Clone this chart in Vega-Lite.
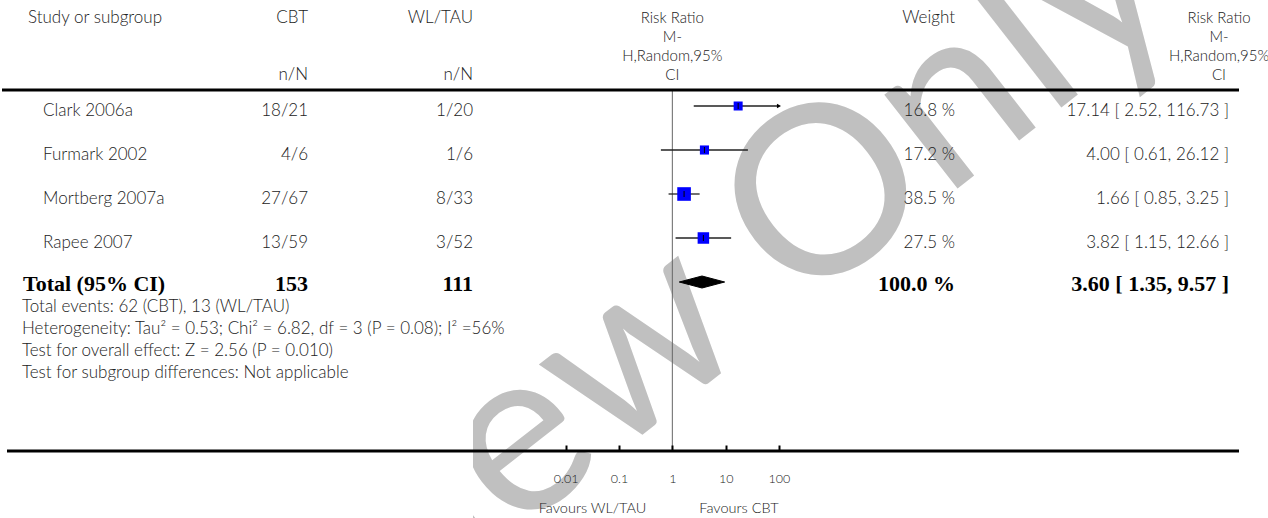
{
  "$schema": "https://vega.github.io/schema/vega-lite/v6.json",
  "padding": 0,
  "spacing": 0,
  "bounds": "flush",
  "background": "white",
  "config": {
    "view": {"stroke": null},
    "text": {"font": "Lato", "fontSize": 17, "fontWeight": 300, "color": "#222"},
    "axis": {"grid": false}
  },
  "datasets": {
    "rules": [{"rule": "header"}, {"rule": "axis"}],
    "header": [
      {"col": "study", "line": "1", "text": "Study or subgroup"},
      {"col": "cbt", "line": "1", "text": "CBT"},
      {"col": "cbt", "line": "4", "text": "n/N"},
      {"col": "wl", "line": "1", "text": "WL/TAU"},
      {"col": "wl", "line": "4", "text": "n/N"},
      {"col": "rr", "line": "1", "text": "Risk Ratio"},
      {"col": "rr", "line": "2", "text": "M-"},
      {"col": "rr", "line": "3", "text": "H,Random,95%"},
      {"col": "rr", "line": "4", "text": "CI"},
      {"col": "weight", "line": "1", "text": "Weight"},
      {"col": "rrtext", "line": "1", "text": "Risk Ratio"},
      {"col": "rrtext", "line": "2", "text": "M-"},
      {"col": "rrtext", "line": "3", "text": "H,Random,95%"},
      {"col": "rrtext", "line": "4", "text": "CI"}
    ],
    "studies": [
      {"study": "Clark 2006a", "cbt": "18/21", "wl": "1/20", "rr": 17.14, "lo": 2.52, "hi": 116.73, "weight": 16.8, "wtext": "16.8 %", "rrtext": "17.14 [ 2.52, 116.73 ]"},
      {"study": "Furmark 2002", "cbt": "4/6", "wl": "1/6", "rr": 4.0, "lo": 0.61, "hi": 26.12, "weight": 17.2, "wtext": "17.2 %", "rrtext": "4.00 [ 0.61, 26.12 ]"},
      {"study": "Mortberg 2007a", "cbt": "27/67", "wl": "8/33", "rr": 1.66, "lo": 0.85, "hi": 3.25, "weight": 38.5, "wtext": "38.5 %", "rrtext": "1.66 [ 0.85, 3.25 ]"},
      {"study": "Rapee 2007", "cbt": "13/59", "wl": "3/52", "rr": 3.82, "lo": 1.15, "hi": 12.66, "weight": 27.5, "wtext": "27.5 %", "rrtext": "3.82 [ 1.15, 12.66 ]"}
    ],
    "total": [
      {"study": "Total (95% CI)", "cbt": "153", "wl": "111", "rr": 3.6, "lo": 1.35, "hi": 9.57, "wtext": "100.0 %", "rrtext": "3.60 [ 1.35, 9.57 ]"}
    ],
    "diamond": [
      {"vertex": 1, "ratio": 1.35, "edge": "middle"},
      {"vertex": 2, "ratio": 3.6, "edge": "upper"},
      {"vertex": 3, "ratio": 9.57, "edge": "middle"},
      {"vertex": 4, "ratio": 3.6, "edge": "lower"}
    ],
    "notes": [
      {"line": "1", "text": "Total events: 62 (CBT), 13 (WL/TAU)"},
      {"line": "2", "text": "Heterogeneity: Tau² = 0.53; Chi² = 6.82, df = 3 (P = 0.08); I² =56%"},
      {"line": "3", "text": "Test for overall effect: Z = 2.56 (P = 0.010)"},
      {"line": "4", "text": "Test for subgroup differences: Not applicable"}
    ],
    "favours": [
      {"side": "WL/TAU", "text": "Favours WL/TAU"},
      {"side": "CBT", "text": "Favours CBT"}
    ],
    "watermark": [{"text": "Review Only"}]
  },
  "hconcat": [
    {
      "width": 5, "height": 518,
      "layer": [
        {"data": {"name": "rules"}, "transform": [{"filter": "datum.rule == 'header'"}],
         "mark": {"type": "rule", "strokeWidth": 3, "color": "black"},
         "encoding": {"y": {"field": "rule", "type": "nominal", "scale": {"type": "point", "domain": ["header", "axis"], "range": [90, 451], "padding": 0}, "axis": null}}}
      ]
    },
    {
      "width": 15, "height": 518,
      "layer": [
        {"data": {"name": "rules"},
         "mark": {"type": "rule", "strokeWidth": 3, "color": "black"},
         "encoding": {"y": {"field": "rule", "type": "nominal", "scale": {"type": "point", "domain": ["header", "axis"], "range": [90, 451], "padding": 0}, "axis": null}}},
        {"data": {"name": "header"}, "transform": [{"filter": "datum.col == 'study'"}],
         "mark": {"type": "text", "align": "left", "baseline": "middle", "dx": 6},
         "encoding": {"x": {"value": "width"}, "y": {"field": "line", "type": "nominal", "scale": {"type": "point", "domain": ["1", "2", "3", "4"], "range": [18, 75], "padding": 0}, "axis": null}, "text": {"field": "text"}}},
        {"data": {"name": "studies"},
         "mark": {"type": "text", "align": "left", "baseline": "middle", "dx": 21},
         "encoding": {"x": {"value": "width"}, "y": {"field": "study", "type": "nominal", "scale": {"type": "point", "domain": ["Clark 2006a", "Furmark 2002", "Mortberg 2007a", "Rapee 2007", "Total (95% CI)"], "range": [111, 287], "padding": 0}, "axis": null}, "text": {"field": "study"}}},
        {"data": {"name": "total"},
         "mark": {"type": "text", "align": "left", "baseline": "middle", "dx": 1, "dy": -3, "font": "Liberation Serif", "fontWeight": "bold", "fontSize": 22, "color": "black"},
         "encoding": {"x": {"value": "width"}, "y": {"field": "study", "type": "nominal", "scale": {"type": "point", "domain": ["Clark 2006a", "Furmark 2002", "Mortberg 2007a", "Rapee 2007", "Total (95% CI)"], "range": [111, 287], "padding": 0}, "axis": null}, "text": {"field": "study"}}},
        {"data": {"name": "notes"},
         "mark": {"type": "text", "align": "left", "baseline": "middle"},
         "encoding": {"x": {"value": "width"}, "y": {"field": "line", "type": "nominal", "scale": {"type": "point", "domain": ["1", "2", "3", "4"], "range": [307, 373], "padding": 0}, "axis": null}, "text": {"field": "text"}}}
      ],
      "resolve": {"scale": {"y": "independent"}}
    },
    {
      "width": 286, "height": 518,
      "layer": [
        {"data": {"name": "rules"},
         "mark": {"type": "rule", "strokeWidth": 3, "color": "black"},
         "encoding": {"y": {"field": "rule", "type": "nominal", "scale": {"type": "point", "domain": ["header", "axis"], "range": [90, 451], "padding": 0}, "axis": null}}},
        {"data": {"name": "header"}, "transform": [{"filter": "datum.col == 'cbt'"}],
         "mark": {"type": "text", "align": "right", "baseline": "middle"},
         "encoding": {"x": {"value": "width"}, "y": {"field": "line", "type": "nominal", "scale": {"type": "point", "domain": ["1", "2", "3", "4"], "range": [18, 75], "padding": 0}, "axis": null}, "text": {"field": "text"}}},
        {"data": {"name": "studies"},
         "mark": {"type": "text", "align": "right", "baseline": "middle"},
         "encoding": {"x": {"value": "width"}, "y": {"field": "study", "type": "nominal", "scale": {"type": "point", "domain": ["Clark 2006a", "Furmark 2002", "Mortberg 2007a", "Rapee 2007", "Total (95% CI)"], "range": [111, 287], "padding": 0}, "axis": null}, "text": {"field": "cbt"}}},
        {"data": {"name": "total"},
         "mark": {"type": "text", "align": "right", "baseline": "middle", "dy": -3, "font": "Liberation Serif", "fontWeight": "bold", "fontSize": 22, "color": "black"},
         "encoding": {"x": {"value": "width"}, "y": {"field": "study", "type": "nominal", "scale": {"type": "point", "domain": ["Clark 2006a", "Furmark 2002", "Mortberg 2007a", "Rapee 2007", "Total (95% CI)"], "range": [111, 287], "padding": 0}, "axis": null}, "text": {"field": "cbt"}}}
      ],
      "resolve": {"scale": {"y": "independent"}}
    },
    {
      "width": 165, "height": 518,
      "layer": [
        {"data": {"name": "rules"},
         "mark": {"type": "rule", "strokeWidth": 3, "color": "black"},
         "encoding": {"y": {"field": "rule", "type": "nominal", "scale": {"type": "point", "domain": ["header", "axis"], "range": [90, 451], "padding": 0}, "axis": null}}},
        {"data": {"name": "header"}, "transform": [{"filter": "datum.col == 'wl'"}],
         "mark": {"type": "text", "align": "right", "baseline": "middle"},
         "encoding": {"x": {"value": "width"}, "y": {"field": "line", "type": "nominal", "scale": {"type": "point", "domain": ["1", "2", "3", "4"], "range": [18, 75], "padding": 0}, "axis": null}, "text": {"field": "text"}}},
        {"data": {"name": "studies"},
         "mark": {"type": "text", "align": "right", "baseline": "middle"},
         "encoding": {"x": {"value": "width"}, "y": {"field": "study", "type": "nominal", "scale": {"type": "point", "domain": ["Clark 2006a", "Furmark 2002", "Mortberg 2007a", "Rapee 2007", "Total (95% CI)"], "range": [111, 287], "padding": 0}, "axis": null}, "text": {"field": "wl"}}},
        {"data": {"name": "total"},
         "mark": {"type": "text", "align": "right", "baseline": "middle", "dy": -3, "font": "Liberation Serif", "fontWeight": "bold", "fontSize": 22, "color": "black"},
         "encoding": {"x": {"value": "width"}, "y": {"field": "study", "type": "nominal", "scale": {"type": "point", "domain": ["Clark 2006a", "Furmark 2002", "Mortberg 2007a", "Rapee 2007", "Total (95% CI)"], "range": [111, 287], "padding": 0}, "axis": null}, "text": {"field": "wl"}}}
      ],
      "resolve": {"scale": {"y": "independent"}}
    },
    {
      "width": 756, "height": 518,
      "layer": [
        {"data": {"name": "watermark"},
         "mark": {"type": "text", "font": "Lato", "fontWeight": 400, "fontSize": 235, "color": "#c0c0c0", "angle": 322, "align": "center", "baseline": "middle", "dx": -229, "dy": -61, "clip": true},
         "encoding": {"text": {"field": "text"}}},
        {"data": {"name": "rules"}, "transform": [{"filter": "datum.rule == 'header'"}],
         "mark": {"type": "rule", "color": "#666", "strokeWidth": 1},
         "encoding": {
           "x": {"datum": 1, "type": "quantitative", "scale": {"type": "log", "domain": [0.000183, 27390000000], "nice": false},
                 "axis": {"orient": "bottom", "values": [0.01, 0.1, 1, 10, 100], "format": "~g", "title": null, "domain": false, "ticks": true, "tickSize": -6, "tickWidth": 2, "tickColor": "black", "labelPadding": 27, "labelFont": "Lato", "labelFontSize": 12.5, "labelFontWeight": 300, "labelColor": "#222", "labelFlush": false, "labelOverlap": false, "grid": false, "offset": -67, "zindex": 1}},
           "y": {"datum": "header", "type": "nominal", "scale": {"type": "point", "domain": ["header", "axis"], "range": [90, 451], "padding": 0}, "axis": null},
           "y2": {"datum": "axis"}}},
        {"data": {"name": "rules"},
         "mark": {"type": "rule", "strokeWidth": 3, "color": "black"},
         "encoding": {"y": {"field": "rule", "type": "nominal", "scale": {"type": "point", "domain": ["header", "axis"], "range": [90, 451], "padding": 0}, "axis": null}}},
        {"data": {"name": "studies"}, "transform": [{"filter": "datum.hi <= 100"}],
         "mark": {"type": "rule", "color": "#222", "strokeWidth": 1.3},
         "encoding": {
           "x": {"field": "lo", "type": "quantitative", "scale": {"type": "log", "domain": [0.000183, 27390000000], "nice": false},
                 "axis": {"orient": "bottom", "values": [0.01, 0.1, 1, 10, 100], "format": "~g", "title": null, "domain": false, "ticks": true, "tickSize": -6, "tickWidth": 2, "tickColor": "black", "labelPadding": 27, "labelFont": "Lato", "labelFontSize": 12.5, "labelFontWeight": 300, "labelColor": "#222", "labelFlush": false, "labelOverlap": false, "grid": false, "offset": -67, "zindex": 1}},
           "x2": {"field": "hi"},
           "y": {"field": "study", "type": "nominal", "scale": {"type": "point", "domain": ["Clark 2006a", "Furmark 2002", "Mortberg 2007a", "Rapee 2007", "Total (95% CI)"], "range": [106, 282], "padding": 0}, "axis": null}}},
        {"data": {"name": "studies"}, "transform": [{"filter": "datum.hi > 100"}],
         "mark": {"type": "rule", "color": "#222", "strokeWidth": 1.3},
         "encoding": {
           "x": {"field": "lo", "type": "quantitative", "scale": {"type": "log", "domain": [0.000183, 27390000000], "nice": false},
                 "axis": {"orient": "bottom", "values": [0.01, 0.1, 1, 10, 100], "format": "~g", "title": null, "domain": false, "ticks": true, "tickSize": -6, "tickWidth": 2, "tickColor": "black", "labelPadding": 27, "labelFont": "Lato", "labelFontSize": 12.5, "labelFontWeight": 300, "labelColor": "#222", "labelFlush": false, "labelOverlap": false, "grid": false, "offset": -67, "zindex": 1}},
           "x2": {"datum": 100},
           "y": {"field": "study", "type": "nominal", "scale": {"type": "point", "domain": ["Clark 2006a", "Furmark 2002", "Mortberg 2007a", "Rapee 2007", "Total (95% CI)"], "range": [106, 282], "padding": 0}, "axis": null}}},
        {"data": {"name": "studies"}, "transform": [{"filter": "datum.hi > 100"}],
         "mark": {"type": "point", "shape": "triangle-right", "filled": true, "color": "black", "opacity": 1, "size": 22, "dx": -2},
         "encoding": {
           "x": {"datum": 100, "type": "quantitative", "scale": {"type": "log", "domain": [0.000183, 27390000000], "nice": false},
                 "axis": {"orient": "bottom", "values": [0.01, 0.1, 1, 10, 100], "format": "~g", "title": null, "domain": false, "ticks": true, "tickSize": -6, "tickWidth": 2, "tickColor": "black", "labelPadding": 27, "labelFont": "Lato", "labelFontSize": 12.5, "labelFontWeight": 300, "labelColor": "#222", "labelFlush": false, "labelOverlap": false, "grid": false, "offset": -67, "zindex": 1}},
           "y": {"field": "study", "type": "nominal", "scale": {"type": "point", "domain": ["Clark 2006a", "Furmark 2002", "Mortberg 2007a", "Rapee 2007", "Total (95% CI)"], "range": [106, 282], "padding": 0}, "axis": null}}},
        {"data": {"name": "studies"},
         "mark": {"type": "point", "shape": "square", "filled": true, "color": "#0000ff", "opacity": 1},
         "encoding": {
           "x": {"field": "rr", "type": "quantitative", "scale": {"type": "log", "domain": [0.000183, 27390000000], "nice": false},
                 "axis": {"orient": "bottom", "values": [0.01, 0.1, 1, 10, 100], "format": "~g", "title": null, "domain": false, "ticks": true, "tickSize": -6, "tickWidth": 2, "tickColor": "black", "labelPadding": 27, "labelFont": "Lato", "labelFontSize": 12.5, "labelFontWeight": 300, "labelColor": "#222", "labelFlush": false, "labelOverlap": false, "grid": false, "offset": -67, "zindex": 1}},
           "y": {"field": "study", "type": "nominal", "scale": {"type": "point", "domain": ["Clark 2006a", "Furmark 2002", "Mortberg 2007a", "Rapee 2007", "Total (95% CI)"], "range": [106, 282], "padding": 0}, "axis": null},
           "size": {"field": "weight", "type": "quantitative", "scale": {"type": "linear", "domain": [0, 100], "range": [0, 482]}, "legend": null}}},
        {"data": {"name": "studies"},
         "mark": {"type": "tick", "orient": "vertical", "size": 6, "thickness": 1, "color": "black", "opacity": 1},
         "encoding": {
           "x": {"field": "rr", "type": "quantitative", "scale": {"type": "log", "domain": [0.000183, 27390000000], "nice": false},
                 "axis": {"orient": "bottom", "values": [0.01, 0.1, 1, 10, 100], "format": "~g", "title": null, "domain": false, "ticks": true, "tickSize": -6, "tickWidth": 2, "tickColor": "black", "labelPadding": 27, "labelFont": "Lato", "labelFontSize": 12.5, "labelFontWeight": 300, "labelColor": "#222", "labelFlush": false, "labelOverlap": false, "grid": false, "offset": -67, "zindex": 1}},
           "y": {"field": "study", "type": "nominal", "scale": {"type": "point", "domain": ["Clark 2006a", "Furmark 2002", "Mortberg 2007a", "Rapee 2007", "Total (95% CI)"], "range": [106, 282], "padding": 0}, "axis": null}}},
        {"data": {"name": "diamond"},
         "mark": {"type": "line", "fill": "black", "stroke": "black", "strokeWidth": 1, "interpolate": "linear-closed"},
         "encoding": {
           "x": {"field": "ratio", "type": "quantitative", "scale": {"type": "log", "domain": [0.000183, 27390000000], "nice": false},
                 "axis": {"orient": "bottom", "values": [0.01, 0.1, 1, 10, 100], "format": "~g", "title": null, "domain": false, "ticks": true, "tickSize": -6, "tickWidth": 2, "tickColor": "black", "labelPadding": 27, "labelFont": "Lato", "labelFontSize": 12.5, "labelFontWeight": 300, "labelColor": "#222", "labelFlush": false, "labelOverlap": false, "grid": false, "offset": -67, "zindex": 1}},
           "y": {"field": "edge", "type": "nominal", "scale": {"type": "point", "domain": ["upper", "middle", "lower"], "range": [276, 288], "padding": 0}, "axis": null},
           "order": {"field": "vertex", "type": "quantitative"}}},
        {"data": {"name": "header"}, "transform": [{"filter": "datum.col == 'rr'"}],
         "mark": {"type": "text", "align": "center", "baseline": "middle", "fontSize": 15},
         "encoding": {
           "x": {"datum": 1, "type": "quantitative", "scale": {"type": "log", "domain": [0.000183, 27390000000], "nice": false},
                 "axis": {"orient": "bottom", "values": [0.01, 0.1, 1, 10, 100], "format": "~g", "title": null, "domain": false, "ticks": true, "tickSize": -6, "tickWidth": 2, "tickColor": "black", "labelPadding": 27, "labelFont": "Lato", "labelFontSize": 12.5, "labelFontWeight": 300, "labelColor": "#222", "labelFlush": false, "labelOverlap": false, "grid": false, "offset": -67, "zindex": 1}},
           "y": {"field": "line", "type": "nominal", "scale": {"type": "point", "domain": ["1", "2", "3", "4"], "range": [18, 75], "padding": 0}, "axis": null},
           "text": {"field": "text"}}},
        {"data": {"name": "header"}, "transform": [{"filter": "datum.col == 'weight'"}],
         "mark": {"type": "text", "align": "right", "baseline": "middle", "dx": -274},
         "encoding": {"x": {"value": "width"}, "y": {"field": "line", "type": "nominal", "scale": {"type": "point", "domain": ["1", "2", "3", "4"], "range": [18, 75], "padding": 0}, "axis": null}, "text": {"field": "text"}}},
        {"data": {"name": "studies"},
         "mark": {"type": "text", "align": "right", "baseline": "middle", "dx": -274},
         "encoding": {"x": {"value": "width"}, "y": {"field": "study", "type": "nominal", "scale": {"type": "point", "domain": ["Clark 2006a", "Furmark 2002", "Mortberg 2007a", "Rapee 2007", "Total (95% CI)"], "range": [111, 287], "padding": 0}, "axis": null}, "text": {"field": "wtext"}}},
        {"data": {"name": "total"},
         "mark": {"type": "text", "align": "right", "baseline": "middle", "dx": -274, "dy": -3, "font": "Liberation Serif", "fontWeight": "bold", "fontSize": 22, "color": "black"},
         "encoding": {"x": {"value": "width"}, "y": {"field": "study", "type": "nominal", "scale": {"type": "point", "domain": ["Clark 2006a", "Furmark 2002", "Mortberg 2007a", "Rapee 2007", "Total (95% CI)"], "range": [111, 287], "padding": 0}, "axis": null}, "text": {"field": "wtext"}}},
        {"data": {"name": "header"}, "transform": [{"filter": "datum.col == 'rrtext'"}],
         "mark": {"type": "text", "align": "center", "baseline": "middle", "dx": -10, "fontSize": 15},
         "encoding": {"x": {"value": "width"}, "y": {"field": "line", "type": "nominal", "scale": {"type": "point", "domain": ["1", "2", "3", "4"], "range": [18, 75], "padding": 0}, "axis": null}, "text": {"field": "text"}}},
        {"data": {"name": "studies"},
         "mark": {"type": "text", "align": "right", "baseline": "middle"},
         "encoding": {"x": {"value": "width"}, "y": {"field": "study", "type": "nominal", "scale": {"type": "point", "domain": ["Clark 2006a", "Furmark 2002", "Mortberg 2007a", "Rapee 2007", "Total (95% CI)"], "range": [111, 287], "padding": 0}, "axis": null}, "text": {"field": "rrtext"}}},
        {"data": {"name": "total"},
         "mark": {"type": "text", "align": "right", "baseline": "middle", "dy": -3, "font": "Liberation Serif", "fontWeight": "bold", "fontSize": 22, "color": "black"},
         "encoding": {"x": {"value": "width"}, "y": {"field": "study", "type": "nominal", "scale": {"type": "point", "domain": ["Clark 2006a", "Furmark 2002", "Mortberg 2007a", "Rapee 2007", "Total (95% CI)"], "range": [111, 287], "padding": 0}, "axis": null}, "text": {"field": "rrtext"}}},
        {"data": {"name": "favours"}, "transform": [{"filter": "datum.side == 'WL/TAU'"}],
         "mark": {"type": "text", "align": "right", "baseline": "middle", "dx": -26, "dy": -9, "fontSize": 14.5},
         "encoding": {
           "x": {"datum": 1, "type": "quantitative", "scale": {"type": "log", "domain": [0.000183, 27390000000], "nice": false},
                 "axis": {"orient": "bottom", "values": [0.01, 0.1, 1, 10, 100], "format": "~g", "title": null, "domain": false, "ticks": true, "tickSize": -6, "tickWidth": 2, "tickColor": "black", "labelPadding": 27, "labelFont": "Lato", "labelFontSize": 12.5, "labelFontWeight": 300, "labelColor": "#222", "labelFlush": false, "labelOverlap": false, "grid": false, "offset": -67, "zindex": 1}},
           "y": {"value": "height"},
           "text": {"field": "text"}}},
        {"data": {"name": "favours"}, "transform": [{"filter": "datum.side == 'CBT'"}],
         "mark": {"type": "text", "align": "left", "baseline": "middle", "dx": 27, "dy": -9, "fontSize": 14.5},
         "encoding": {
           "x": {"datum": 1, "type": "quantitative", "scale": {"type": "log", "domain": [0.000183, 27390000000], "nice": false},
                 "axis": {"orient": "bottom", "values": [0.01, 0.1, 1, 10, 100], "format": "~g", "title": null, "domain": false, "ticks": true, "tickSize": -6, "tickWidth": 2, "tickColor": "black", "labelPadding": 27, "labelFont": "Lato", "labelFontSize": 12.5, "labelFontWeight": 300, "labelColor": "#222", "labelFlush": false, "labelOverlap": false, "grid": false, "offset": -67, "zindex": 1}},
           "y": {"value": "height"},
           "text": {"field": "text"}}}
      ],
      "resolve": {"scale": {"y": "independent"}}
    },
    {
      "width": 10, "height": 518,
      "layer": [
        {"data": {"name": "rules"},
         "mark": {"type": "rule", "strokeWidth": 3, "color": "black"},
         "encoding": {"y": {"field": "rule", "type": "nominal", "scale": {"type": "point", "domain": ["header", "axis"], "range": [90, 451], "padding": 0}, "axis": null}}}
      ]
    }
  ]
}
